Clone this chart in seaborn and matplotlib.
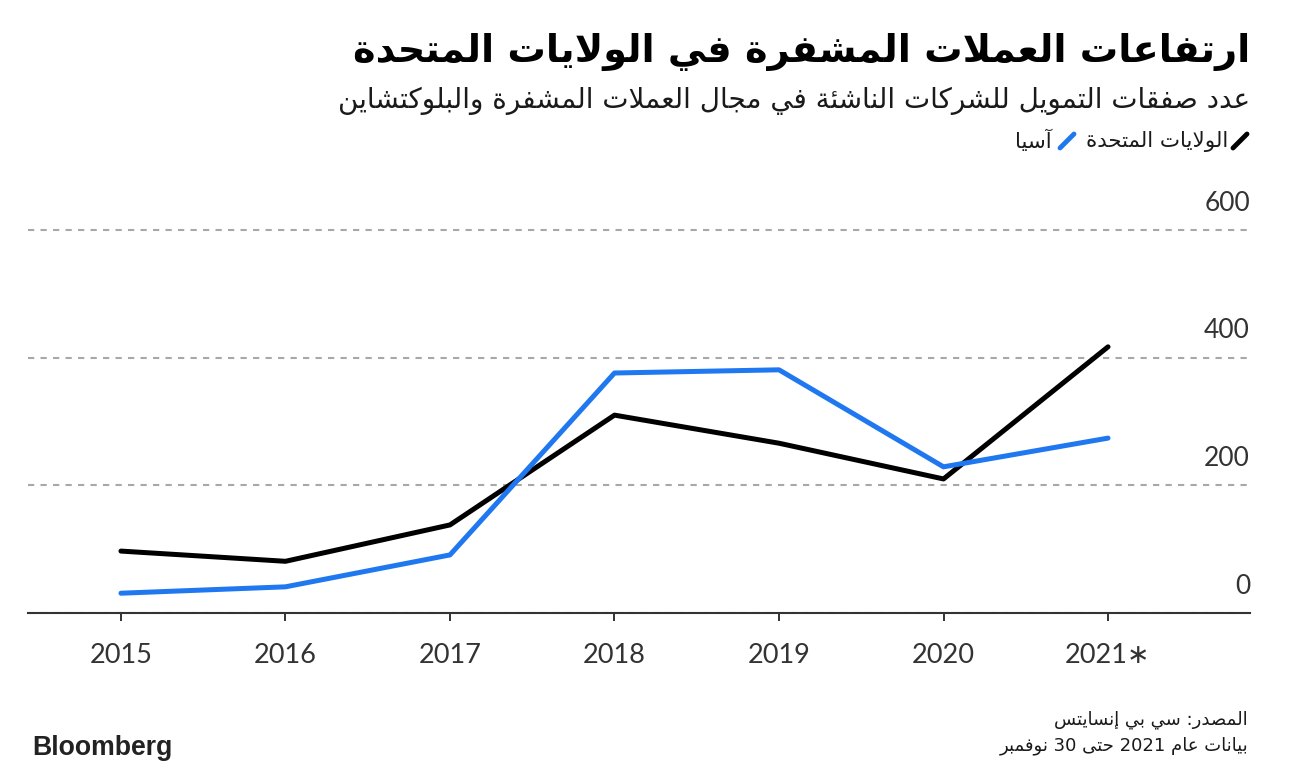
import re
import pandas as pd
import seaborn as sns
import matplotlib.pyplot as plt
from matplotlib.lines import Line2D


years = [2015, 2016, 2017, 2018, 2019, 2020, 2021]
year_labels = ['2015', '2016', '2017', '2018', '2019', '2020', '2021\u2217']
us_deals = [97, 81, 138, 310, 266, 210, 417]
asia_deals = [31, 41, 91, 376, 381, 229, 274]
y_ticks = [0, 200, 400, 600]

title = 'ارتفاعات العملات المشفرة في الولايات المتحدة'
subtitle = 'عدد صفقات التمويل للشركات الناشئة في مجال العملات المشفرة والبلوكتشاين'
us_name = 'الولايات المتحدة'
asia_name = 'آسيا'
source = 'المصدر: سي بي إنسايتس'
note = 'بيانات عام 2021 حتى 30 نوفمبر'

US_COLOR = '#000000'
ASIA_COLOR = '#1f78f0'

# matplotlib does no arabic shaping, so map letters to presentation forms
ARABIC_FORMS = {
    '\u0621': (0xFE80, 1), '\u0622': (0xFE81, 2), '\u0623': (0xFE83, 2),
    '\u0624': (0xFE85, 2), '\u0625': (0xFE87, 2), '\u0626': (0xFE89, 4),
    '\u0627': (0xFE8D, 2), '\u0628': (0xFE8F, 4), '\u0629': (0xFE93, 2),
    '\u062A': (0xFE95, 4), '\u062B': (0xFE99, 4), '\u062C': (0xFE9D, 4),
    '\u062D': (0xFEA1, 4), '\u062E': (0xFEA5, 4), '\u062F': (0xFEA9, 2),
    '\u0630': (0xFEAB, 2), '\u0631': (0xFEAD, 2), '\u0632': (0xFEAF, 2),
    '\u0633': (0xFEB1, 4), '\u0634': (0xFEB5, 4), '\u0635': (0xFEB9, 4),
    '\u0636': (0xFEBD, 4), '\u0637': (0xFEC1, 4), '\u0638': (0xFEC5, 4),
    '\u0639': (0xFEC9, 4), '\u063A': (0xFECD, 4), '\u0641': (0xFED1, 4),
    '\u0642': (0xFED5, 4), '\u0643': (0xFED9, 4), '\u0644': (0xFEDD, 4),
    '\u0645': (0xFEE1, 4), '\u0646': (0xFEE5, 4), '\u0647': (0xFEE9, 4),
    '\u0648': (0xFEED, 2), '\u0649': (0xFEEF, 2), '\u064A': (0xFEF1, 4),
}
LAM_ALEF = {'\u0622': 0xFEF5, '\u0623': 0xFEF7, '\u0625': 0xFEF9, '\u0627': 0xFEFB}


def n_forms(c):
    if isinstance(c, tuple):
        return 2
    return ARABIC_FORMS.get(c, (0, 0))[1]


def shape(text):
    chars = []
    i = 0
    while i < len(text):
        if text[i] == '\u0644' and i + 1 < len(text) and text[i + 1] in LAM_ALEF:
            chars.append(('LA', text[i + 1]))
            i += 2
        else:
            chars.append(text[i])
            i += 1
    out = []
    for k, c in enumerate(chars):
        jp = k > 0 and n_forms(chars[k - 1]) == 4
        jn = k + 1 < len(chars) and n_forms(chars[k + 1]) >= 2
        if isinstance(c, tuple):
            out.append(chr(LAM_ALEF[c[1]] + (1 if jp else 0)))
            continue
        base, n = ARABIC_FORMS.get(c, (None, 0))
        if n == 0:
            out.append(c)
        elif n == 1:
            out.append(chr(base))
        elif n == 2:
            out.append(chr(base + (1 if jp else 0)))
        else:
            if jp and jn:
                f = 3
            elif jp:
                f = 1
            elif jn:
                f = 2
            else:
                f = 0
            out.append(chr(base + f))
    return ''.join(out)


def rtl(text):
    s = shape(text)
    tokens = re.findall(r'[0-9A-Za-z]+|[^0-9A-Za-z]+', s)
    out = []
    for t in reversed(tokens):
        if re.match(r'[0-9A-Za-z]', t):
            out.append(t)
        else:
            out.append(t[::-1])
    return ''.join(out)


sns.set_style('white')
plt.rcParams['font.family'] = ['Lato', 'DejaVu Sans']

df = pd.DataFrame({
    'year': years * 2,
    'deals': us_deals + asia_deals,
    'region': ['us'] * len(years) + ['asia'] * len(years),
})

fig = plt.figure(figsize=(12.97, 7.75), dpi=100)
ax = fig.add_axes([28 / 1297, 1 - 613 / 775, 1222 / 1297, 408.5 / 775])

sns.lineplot(data=df, x='year', y='deals', hue='region', hue_order=['us', 'asia'],
             palette={'us': US_COLOR, 'asia': ASIA_COLOR}, linewidth=3.6,
             legend=False, ax=ax)
for line in ax.lines:
    line.set_solid_capstyle('round')
    line.set_solid_joinstyle('round')

ax.set_xlim(2014.435, 2021.863)
ax.set_ylim(0, 640)
ax.set_xticks(years)
ax.set_xticklabels(year_labels, fontsize=19.5, color='#333333')
ax.tick_params(axis='x', direction='out', length=5.5, width=1.4, color='#333333',
               pad=16, bottom=True)
ax.set_yticks(y_ticks)
ax.set_yticklabels([])
ax.tick_params(axis='y', length=0, left=False)
ax.yaxis.grid(True, linestyle=(0, (3, 3)), color='#a8a8a8', linewidth=1.5)
ax.xaxis.grid(False)
for v in y_ticks:
    ax.annotate(str(v), xy=(1, v), xycoords=ax.get_yaxis_transform(),
                xytext=(0, 14), textcoords='offset points', ha='right',
                va='baseline', fontsize=19, color='#333333')
for side in ['top', 'left', 'right']:
    ax.spines[side].set_visible(False)
ax.spines['bottom'].set_color('#333333')
ax.spines['bottom'].set_linewidth(1.5)
ax.set_xlabel('')
ax.set_ylabel('')

W, H = 1297, 775
fig.text(1250 / W, 1 - 52 / H, rtl(title), ha='right', va='center',
         fontsize=27.5, fontweight='bold', color='black', family='DejaVu Sans')
fig.text(1250 / W, 1 - 101 / H, rtl(subtitle), ha='right', va='center',
         fontsize=20, color='#1a1a1a', family='DejaVu Sans')

# legend: coloured slashes with names, right to left
fig.add_artist(Line2D([1233 / W, 1247 / W], [1 - 148 / H, 1 - 134 / H], color=US_COLOR,
                      linewidth=3.5, solid_capstyle='round'))
fig.text(1228 / W, 1 - 141 / H, rtl(us_name), ha='right', va='center',
         fontsize=15.4, color='#1a1a1a', family='DejaVu Sans')
fig.add_artist(Line2D([1060 / W, 1074 / W], [1 - 148 / H, 1 - 134 / H], color=ASIA_COLOR,
                      linewidth=3.5, solid_capstyle='round'))
fig.text(1052 / W, 1 - 141 / H, rtl(asia_name), ha='right', va='center',
         fontsize=15.4, color='#1a1a1a', family='DejaVu Sans')

fig.text(1248 / W, 1 - 720 / H, rtl(source), ha='right', va='center',
         fontsize=13, color='#1a1a1a', family='DejaVu Sans')
fig.text(1248 / W, 1 - 746 / H, rtl(note), ha='right', va='center',
         fontsize=13, color='#1a1a1a', family=['DejaVu Sans'])
fig.text(32 / W, 1 - 748 / H, 'Bloomberg', ha='left', va='center',
         fontsize=19.2, fontweight='bold', color='#222222', family='Liberation Sans')

fig.savefig('out.png', dpi=100)
